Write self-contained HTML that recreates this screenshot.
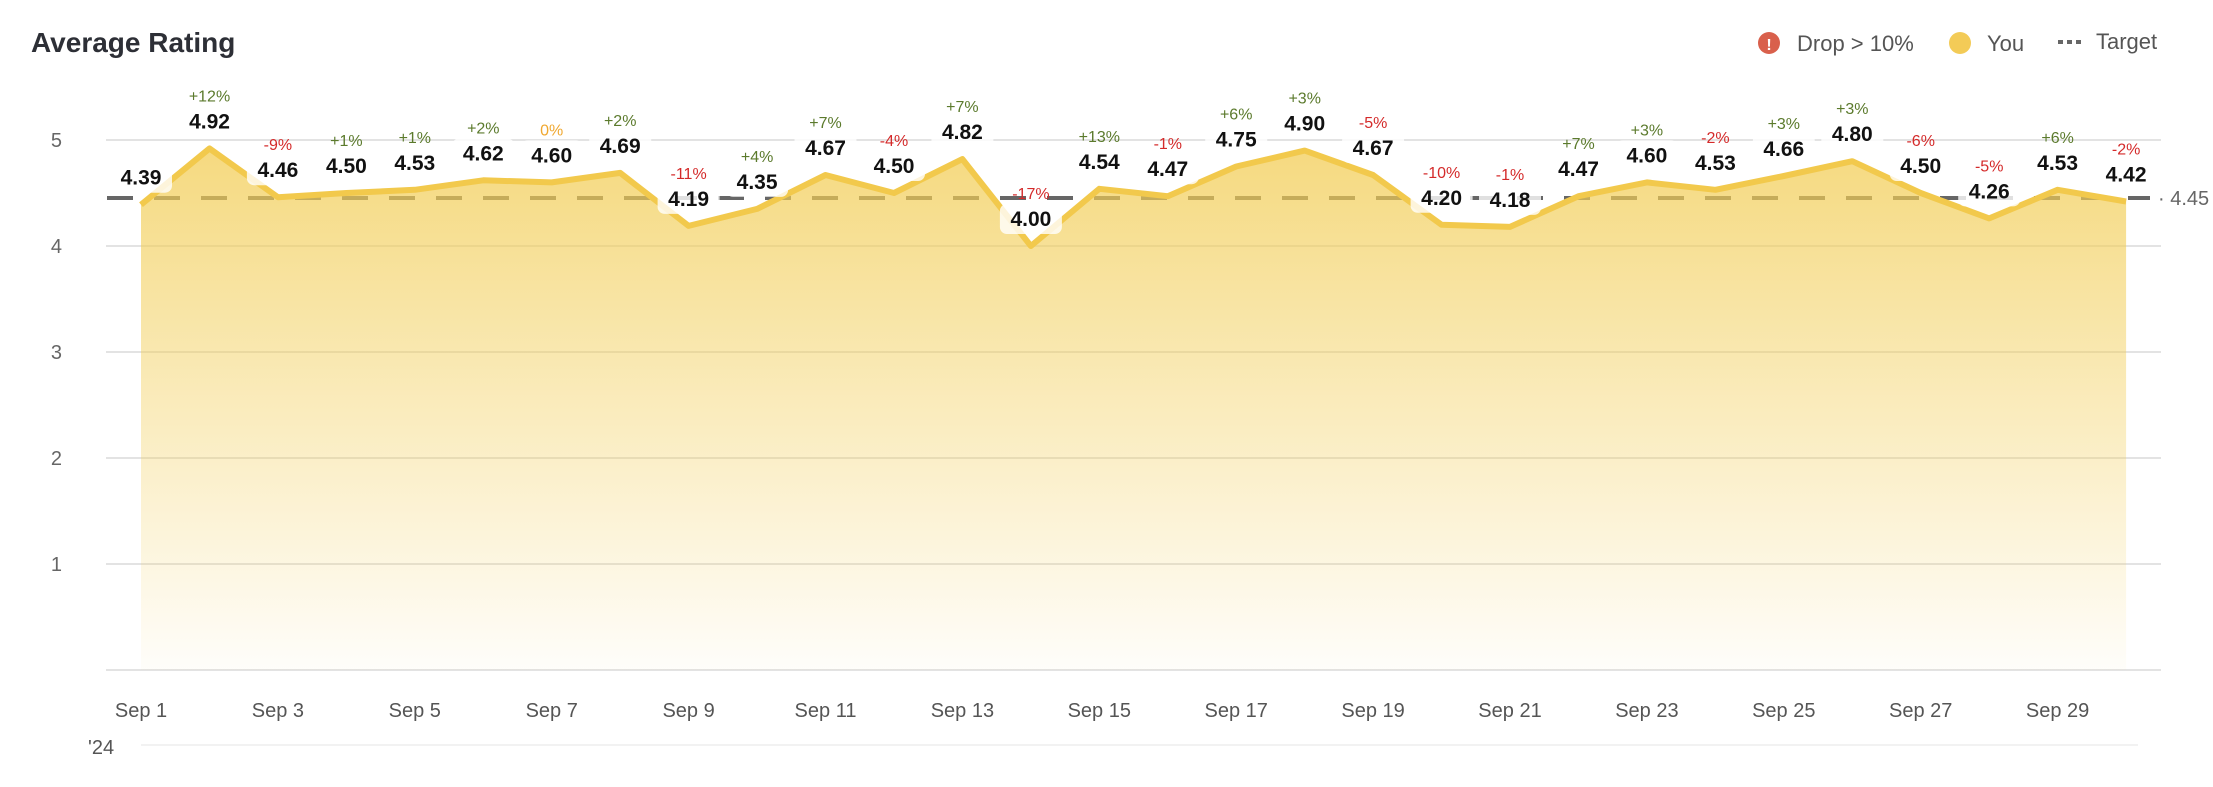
<!DOCTYPE html>
<html><head><meta charset="utf-8"><style>
html,body{margin:0;padding:0;background:#fff;}
svg{display:block;font-family:"Liberation Sans",sans-serif;}
.v{font-size:21px;font-weight:bold;fill:#111;text-anchor:middle;}
.p{font-size:16px;text-anchor:middle;}
.g{fill:#5b7a2c}.r{fill:#d42a2a}.o{fill:#f0a830}
.y{font-size:20px;fill:#666;text-anchor:end;}
.x{font-size:20px;fill:#555;text-anchor:middle;}
</style></head><body>
<svg width="2213" height="787" viewBox="0 0 2213 787">
<defs>
<linearGradient id="fg" x1="0" y1="0" x2="0" y2="1">
<stop offset="0" stop-color="#f2cd55" stop-opacity="0.75"/>
<stop offset="1" stop-color="#f2cd55" stop-opacity="0.03"/>
</linearGradient>
</defs>
<text x="31" y="52" font-size="28" font-weight="bold" fill="#2d2f36">Average Rating</text>
<circle cx="1769" cy="43" r="11" fill="#d9604c"/>
<text x="1769" y="50" font-size="16" font-weight="bold" fill="#fff" text-anchor="middle">!</text>
<text x="1797" y="51" font-size="22" fill="#555">Drop &gt; 10%</text>
<circle cx="1960" cy="43" r="11" fill="#f3cb57"/>
<text x="1987" y="51" font-size="22" fill="#555">You</text>
<line x1="2058" y1="42" x2="2082" y2="42" stroke="#666" stroke-width="4" stroke-dasharray="5 4"/>
<text x="2096" y="49" font-size="22" fill="#555">Target</text>
<g stroke="#e3e3e3" stroke-width="2">
<line x1="106" y1="140" x2="2161" y2="140"/>
<line x1="106" y1="246" x2="2161" y2="246"/>
<line x1="106" y1="352" x2="2161" y2="352"/>
<line x1="106" y1="458" x2="2161" y2="458"/>
<line x1="106" y1="564" x2="2161" y2="564"/>
<line x1="106" y1="670" x2="2161" y2="670"/>
</g>
<line x1="141" y1="745" x2="2138" y2="745" stroke="#f2f2f2" stroke-width="2"/>
<text class="y" x="62" y="147">5</text>
<text class="y" x="62" y="253">4</text>
<text class="y" x="62" y="359">3</text>
<text class="y" x="62" y="465">2</text>
<text class="y" x="62" y="571">1</text>
<line x1="107" y1="198" x2="2150" y2="198" stroke="#666" stroke-width="4" stroke-dasharray="26 21"/>
<text x="2158" y="205" font-size="20" fill="#666">· 4.45</text>
<polygon fill="url(#fg)" points="141,670 141,204.7 209.5,148.5 277.9,197.2 346.4,193 414.8,189.8 483.3,180.3 551.7,182.4 620.2,172.9 688.6,225.9 757.1,208.9 825.5,175 894,193 962.4,159.1 1030.9,246 1099.3,188.8 1167.8,196.2 1236.2,166.5 1304.7,150.6 1373.1,175 1441.6,224.8 1510,226.9 1578.5,196.2 1646.9,182.4 1715.4,189.8 1783.8,176 1852.3,161.2 1920.7,193 1989.2,218.4 2057.6,189.8 2126.1,201.5 2126.1,670"/>
<polyline fill="none" stroke="#f2c94c" stroke-width="6" stroke-linejoin="round" points="141,204.7 209.5,148.5 277.9,197.2 346.4,193 414.8,189.8 483.3,180.3 551.7,182.4 620.2,172.9 688.6,225.9 757.1,208.9 825.5,175 894,193 962.4,159.1 1030.9,246 1099.3,188.8 1167.8,196.2 1236.2,166.5 1304.7,150.6 1373.1,175 1441.6,224.8 1510,226.9 1578.5,196.2 1646.9,182.4 1715.4,189.8 1783.8,176 1852.3,161.2 1920.7,193 1989.2,218.4 2057.6,189.8 2126.1,201.5"/>
<g fill="#fff" fill-opacity="0.8">
<rect x="110" y="162.7" width="62" height="30" rx="7"/>
<rect x="178.5" y="106.5" width="62" height="30" rx="7"/>
<rect x="246.9" y="155.2" width="62" height="30" rx="7"/>
<rect x="315.4" y="151" width="62" height="30" rx="7"/>
<rect x="383.8" y="147.8" width="62" height="30" rx="7"/>
<rect x="452.3" y="138.3" width="62" height="30" rx="7"/>
<rect x="520.7" y="140.4" width="62" height="30" rx="7"/>
<rect x="589.2" y="130.9" width="62" height="30" rx="7"/>
<rect x="657.6" y="183.9" width="62" height="30" rx="7"/>
<rect x="726.1" y="166.9" width="62" height="30" rx="7"/>
<rect x="794.5" y="133" width="62" height="30" rx="7"/>
<rect x="863" y="151" width="62" height="30" rx="7"/>
<rect x="931.4" y="117.1" width="62" height="30" rx="7"/>
<rect x="999.9" y="204" width="62" height="30" rx="7"/>
<rect x="1068.3" y="146.8" width="62" height="30" rx="7"/>
<rect x="1136.8" y="154.2" width="62" height="30" rx="7"/>
<rect x="1205.2" y="124.5" width="62" height="30" rx="7"/>
<rect x="1273.7" y="108.6" width="62" height="30" rx="7"/>
<rect x="1342.1" y="133" width="62" height="30" rx="7"/>
<rect x="1410.6" y="182.8" width="62" height="30" rx="7"/>
<rect x="1479" y="184.9" width="62" height="30" rx="7"/>
<rect x="1547.5" y="154.2" width="62" height="30" rx="7"/>
<rect x="1615.9" y="140.4" width="62" height="30" rx="7"/>
<rect x="1684.4" y="147.8" width="62" height="30" rx="7"/>
<rect x="1752.8" y="134" width="62" height="30" rx="7"/>
<rect x="1821.3" y="119.2" width="62" height="30" rx="7"/>
<rect x="1889.7" y="151" width="62" height="30" rx="7"/>
<rect x="1958.2" y="176.4" width="62" height="30" rx="7"/>
<rect x="2026.6" y="147.8" width="62" height="30" rx="7"/>
<rect x="2095.1" y="159.5" width="62" height="30" rx="7"/>
</g>
<g class="v">
<text x="141" y="184.7">4.39</text>
<text x="209.5" y="128.5">4.92</text>
<text x="277.9" y="177.2">4.46</text>
<text x="346.4" y="173">4.50</text>
<text x="414.8" y="169.8">4.53</text>
<text x="483.3" y="160.3">4.62</text>
<text x="551.7" y="162.4">4.60</text>
<text x="620.2" y="152.9">4.69</text>
<text x="688.6" y="205.9">4.19</text>
<text x="757.1" y="188.9">4.35</text>
<text x="825.5" y="155">4.67</text>
<text x="894" y="173">4.50</text>
<text x="962.4" y="139.1">4.82</text>
<text x="1030.9" y="226">4.00</text>
<text x="1099.3" y="168.8">4.54</text>
<text x="1167.8" y="176.2">4.47</text>
<text x="1236.2" y="146.5">4.75</text>
<text x="1304.7" y="130.6">4.90</text>
<text x="1373.1" y="155">4.67</text>
<text x="1441.6" y="204.8">4.20</text>
<text x="1510" y="206.9">4.18</text>
<text x="1578.5" y="176.2">4.47</text>
<text x="1646.9" y="162.4">4.60</text>
<text x="1715.4" y="169.8">4.53</text>
<text x="1783.8" y="156">4.66</text>
<text x="1852.3" y="141.2">4.80</text>
<text x="1920.7" y="173">4.50</text>
<text x="1989.2" y="198.4">4.26</text>
<text x="2057.6" y="169.8">4.53</text>
<text x="2126.1" y="181.5">4.42</text>
</g>
<g class="p">
<text class="g" x="209.5" y="101.5">+12%</text>
<text class="r" x="277.9" y="150.2">-9%</text>
<text class="g" x="346.4" y="146">+1%</text>
<text class="g" x="414.8" y="142.8">+1%</text>
<text class="g" x="483.3" y="133.3">+2%</text>
<text class="o" x="551.7" y="135.4">0%</text>
<text class="g" x="620.2" y="125.9">+2%</text>
<text class="r" x="688.6" y="178.9">-11%</text>
<text class="g" x="757.1" y="161.9">+4%</text>
<text class="g" x="825.5" y="128">+7%</text>
<text class="r" x="894" y="146">-4%</text>
<text class="g" x="962.4" y="112.1">+7%</text>
<text class="r" x="1030.9" y="199">-17%</text>
<text class="g" x="1099.3" y="141.8">+13%</text>
<text class="r" x="1167.8" y="149.2">-1%</text>
<text class="g" x="1236.2" y="119.5">+6%</text>
<text class="g" x="1304.7" y="103.6">+3%</text>
<text class="r" x="1373.1" y="128">-5%</text>
<text class="r" x="1441.6" y="177.8">-10%</text>
<text class="r" x="1510" y="179.9">-1%</text>
<text class="g" x="1578.5" y="149.2">+7%</text>
<text class="g" x="1646.9" y="135.4">+3%</text>
<text class="r" x="1715.4" y="142.8">-2%</text>
<text class="g" x="1783.8" y="129">+3%</text>
<text class="g" x="1852.3" y="114.2">+3%</text>
<text class="r" x="1920.7" y="146">-6%</text>
<text class="r" x="1989.2" y="171.4">-5%</text>
<text class="g" x="2057.6" y="142.8">+6%</text>
<text class="r" x="2126.1" y="154.5">-2%</text>
</g>
<g class="x">
<text x="141" y="717">Sep 1</text>
<text x="277.9" y="717">Sep 3</text>
<text x="414.8" y="717">Sep 5</text>
<text x="551.7" y="717">Sep 7</text>
<text x="688.6" y="717">Sep 9</text>
<text x="825.5" y="717">Sep 11</text>
<text x="962.4" y="717">Sep 13</text>
<text x="1099.3" y="717">Sep 15</text>
<text x="1236.2" y="717">Sep 17</text>
<text x="1373.1" y="717">Sep 19</text>
<text x="1510" y="717">Sep 21</text>
<text x="1646.9" y="717">Sep 23</text>
<text x="1783.8" y="717">Sep 25</text>
<text x="1920.7" y="717">Sep 27</text>
<text x="2057.6" y="717">Sep 29</text>
</g>
<text x="88" y="754" font-size="20" fill="#555">'24</text>
</svg>
</body></html>
